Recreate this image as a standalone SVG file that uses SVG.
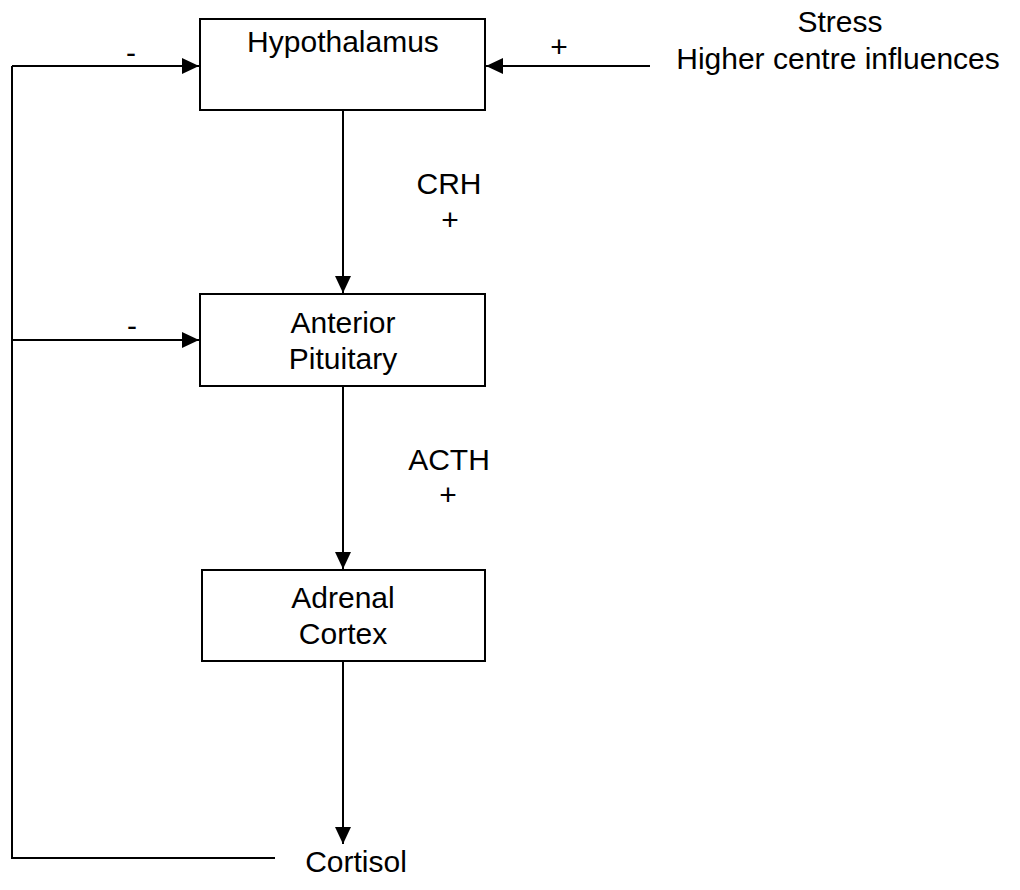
<svg xmlns="http://www.w3.org/2000/svg" width="1020" height="890" viewBox="0 0 1020 890">
<defs>
<style>
text{font-family:"Liberation Sans",Arial,sans-serif;font-size:30px;fill:#000}
.c{text-anchor:middle}
.box{fill:#fff;stroke:#000;stroke-width:2}
.ln{fill:none;stroke:#000;stroke-width:2}
</style>
<marker id="ah" markerUnits="userSpaceOnUse" markerWidth="18" markerHeight="16" refX="17" refY="8" orient="auto">
<path d="M0,0 L17,8 L0,16 Z" fill="#000"/>
</marker>
</defs>
<rect width="1020" height="890" fill="#fff"/>
<g id="connectors">
<path class="ln" d="M12,66 H199" marker-end="url(#ah)"/>
<path class="ln" d="M12,340 H199" marker-end="url(#ah)"/>
<path class="ln" d="M12,66 V858 H275"/>
<path class="ln" d="M650,66 H486" marker-end="url(#ah)"/>
<path class="ln" d="M343,110 V293" marker-end="url(#ah)"/>
<path class="ln" d="M343,386 V569" marker-end="url(#ah)"/>
<path class="ln" d="M343,661 V844" marker-end="url(#ah)"/>
<text x="131" y="63" class="c">-</text>
<text x="132" y="336" class="c">-</text>
<text x="559" y="57" class="c">+</text>
<text x="449" y="194" class="c">CRH</text>
<text x="450" y="230" class="c">+</text>
<text x="449" y="470" class="c">ACTH</text>
<text x="448" y="505" class="c">+</text>
</g>
<g id="hypothalamus">
<rect class="box" x="200" y="19" width="285" height="91"/>
<text x="343" y="52" class="c">Hypothalamus</text>
</g>
<g id="stress">
<text x="840" y="32" class="c">Stress</text>
<text x="838" y="69" class="c">Higher centre influences</text>
</g>
<g id="anterior-pituitary">
<rect class="box" x="200" y="294" width="285" height="92"/>
<text x="343" y="333" class="c">Anterior</text>
<text x="343" y="369" class="c">Pituitary</text>
</g>
<g id="adrenal-cortex">
<rect class="box" x="202" y="570" width="283" height="91"/>
<text x="343" y="608" class="c">Adrenal</text>
<text x="343" y="644" class="c">Cortex</text>
</g>
<g id="cortisol">
<text x="356" y="872" class="c">Cortisol</text>
</g>
</svg>
